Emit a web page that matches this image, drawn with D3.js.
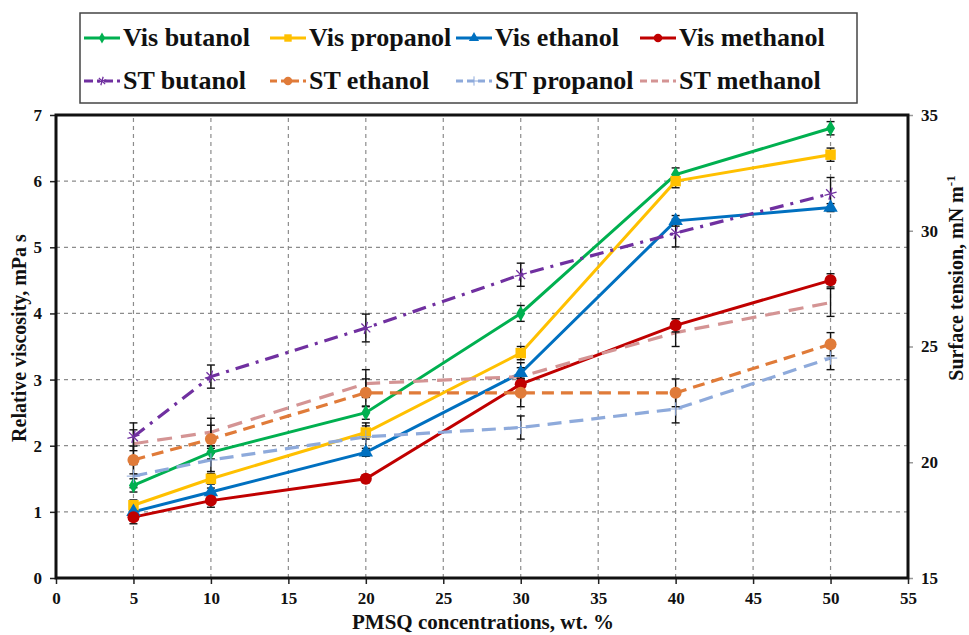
<!DOCTYPE html>
<html>
<head>
<meta charset="utf-8">
<script src="https://cdn.jsdelivr.net/npm/d3@7"></script>
<style>
  body { margin: 0; background: #fff; }
  text { font-family: "Times New Roman", "Liberation Serif", serif; font-weight: bold; }
</style>
</head>
<body>
<script>
var width = 969,
    height = 635;
var margin = {left: 56, right: 61, top: 115, bottom: 57};

// x categories (PMSQ wt. %)
var conc = [5, 10, 20, 30, 40, 50];

// relative viscosity, mPa s (left axis)
var visButanol  = [1.4, 1.9, 2.5, 4.0, 6.1, 6.8];
var visPropanol = [1.1, 1.5, 2.2, 3.4, 6.0, 6.4];
var visEthanol  = [1.0, 1.3, 1.9, 3.1, 5.4, 5.6];
var visMethanol = [0.92, 1.17, 1.5, 2.93, 3.82, 4.5];
var errVisButanol  = [0.1, 0.1, 0.1, 0.12, 0.1, 0.1];
var errVisPropanol = [0.08, 0.08, 0.1, 0.1, 0.1, 0.1];
var errVisEthanol  = [0.06, 0.06, 0.06, 0.08, 0.08, 0.06];
var errVisMethanol = [0.1, 0.1, 0.06, 0.08, 0.1, 0.1];

// surface tension, mN m-1 (right axis)
var stButanol  = [21.1, 23.7, 25.8, 28.1, 29.9, 31.6];
var stEthanol  = [20.1, 21.0, 23.0, 23.0, 23.0, 25.1];
var stPropanol = [19.4, 20.1, 21.1, 21.5, 22.3, 24.5];
var stMethanol = [20.8, 21.3, 23.4, 23.7, 25.6, 26.9];
var errStButanol  = [0.6, 0.5, 0.6, 0.5, 0.6, 0.7];
var errStEthanol  = [0.6, 0.6, 0.6, 0.6, 0.6, 0.5];
var errStPropanol = [0.5, 0.5, 0.6, 0.5, 0.6, 0.5];
var errStMethanol = [0.6, 0.6, 0.6, 0.6, 0.6, 0.6];

var xTicks = [0, 5, 10, 15, 20, 25, 30, 35, 40, 45, 50, 55];
var yTicks = [0, 1, 2, 3, 4, 5, 6, 7];
var y2Ticks = [15, 20, 25, 30, 35];

var series = [
  {name: "Vis butanol",  vals: visButanol,  err: errVisButanol,  axis: "L", color: "#00b050", dash: null,         mark: "diamond"},
  {name: "Vis propanol", vals: visPropanol, err: errVisPropanol, axis: "L", color: "#ffc000", dash: null,         mark: "square"},
  {name: "Vis ethanol",  vals: visEthanol,  err: errVisEthanol,  axis: "L", color: "#0070c0", dash: null,         mark: "triangle"},
  {name: "Vis methanol", vals: visMethanol, err: errVisMethanol, axis: "L", color: "#c00000", dash: null,         mark: "circle"},
  {name: "ST butanol",   vals: stButanol,   err: errStButanol,   axis: "R", color: "#7030a0", dash: "14,7,3,7",   mark: "star"},
  {name: "ST ethanol",   vals: stEthanol,   err: errStEthanol,   axis: "R", color: "#e07b39", dash: "12,7",       mark: "circle"},
  {name: "ST propanol",  vals: stPropanol,  err: errStPropanol,  axis: "R", color: "#8eaadb", dash: "14,8",       mark: "plus"},
  {name: "ST methanol",  vals: stMethanol,  err: errStMethanol,  axis: "R", color: "#d49494", dash: "15,9",       mark: null}
];

var svg = d3.select("body").append("svg")
    .attr("width", width)
    .attr("height", height);

var x = d3.scaleLinear().domain([0, 55]).range([margin.left, width - margin.right]);
var y = d3.scaleLinear().domain([0, 7]).range([height - margin.bottom, margin.top]);
var y2 = d3.scaleLinear().domain([15, 35]).range([height - margin.bottom, margin.top]);

function yFor(s) { return s.axis == "L" ? y : y2; }

// grid
svg.append("g").selectAll("line.hg")
    .data(yTicks.filter(function(d) { return d > 0 && d < 7; }))
    .enter().append("line")
    .attr("x1", x(0)).attr("x2", x(55))
    .attr("y1", function(d) { return y(d); }).attr("y2", function(d) { return y(d); })
    .attr("stroke", "#8c8c8c").attr("stroke-width", 1.2).attr("stroke-dasharray", "4,4");
svg.append("g").selectAll("line.vg")
    .data(xTicks.filter(function(d) { return d > 0 && d < 55; }))
    .enter().append("line")
    .attr("y1", y(0)).attr("y2", y(7))
    .attr("x1", function(d) { return x(d); }).attr("x2", function(d) { return x(d); })
    .attr("stroke", "#8c8c8c").attr("stroke-width", 1.2).attr("stroke-dasharray", "4,4");

// axes
var axL = svg.append("g").attr("transform", "translate(" + x(0) + ",0)")
    .call(d3.axisLeft(y).tickValues(yTicks).tickSize(6).tickPadding(8).tickFormat(d3.format("d")));
var axB = svg.append("g").attr("transform", "translate(0," + y(0) + ")")
    .call(d3.axisBottom(x).tickValues(xTicks).tickSize(6).tickPadding(8).tickFormat(d3.format("d")));
var axR = svg.append("g").attr("transform", "translate(" + x(55) + ",0)")
    .call(d3.axisRight(y2).tickValues(y2Ticks).tickSize(5).tickPadding(8).tickFormat(d3.format("d")));

[axL, axB, axR].forEach(function(a) {
  a.select(".domain").remove();
  a.selectAll("text").attr("font-size", 17).attr("fill", "#111")
    .style("font-family", "'Times New Roman', 'Liberation Serif', serif").style("font-weight", "bold");
  a.selectAll(".tick line").attr("stroke", "#222").attr("stroke-width", 1.5);
});
axR.selectAll(".tick line").attr("stroke", "#999");

// frame
svg.append("rect")
    .attr("x", x(0)).attr("y", y(7))
    .attr("width", x(55) - x(0)).attr("height", y(0) - y(7))
    .attr("fill", "none").attr("stroke", "#111").attr("stroke-width", 3);

// lines
var line = d3.line();
series.forEach(function(s) {
  var ys = yFor(s);
  svg.append("path")
    .attr("d", line(s.vals.map(function(v, i) { return [x(conc[i]), ys(v)]; })))
    .attr("fill", "none")
    .attr("stroke", s.color)
    .attr("stroke-width", s.axis == "L" ? 3 : 3.2)
    .attr("stroke-dasharray", s.dash);
});

// error bars
series.forEach(function(s) {
  var ys = yFor(s);
  var g = svg.append("g").attr("stroke", "#111").attr("stroke-width", 1.4);
  s.vals.forEach(function(v, i) {
    var cx = x(conc[i]), t = ys(v + s.err[i]), b = ys(v - s.err[i]);
    g.append("line").attr("x1", cx).attr("x2", cx).attr("y1", t).attr("y2", b);
    g.append("line").attr("x1", cx - 4).attr("x2", cx + 4).attr("y1", t).attr("y2", t);
    g.append("line").attr("x1", cx - 4).attr("x2", cx + 4).attr("y1", b).attr("y2", b);
  });
});

// markers
function drawMark(g, kind, color, cx, cy, scale) {
  scale = scale || 1;
  if (kind == "diamond") {
    g.append("path").attr("d", d3.symbol(d3.symbolDiamond, 70 * scale)()).attr("transform", "translate(" + cx + "," + cy + ")").attr("fill", color);
  } else if (kind == "square") {
    g.append("path").attr("d", d3.symbol(d3.symbolSquare, 110 * scale)()).attr("transform", "translate(" + cx + "," + cy + ")").attr("fill", color);
  } else if (kind == "triangle") {
    g.append("path").attr("d", d3.symbol(d3.symbolTriangle, 90 * scale)()).attr("transform", "translate(" + cx + "," + cy + ")").attr("fill", color);
  } else if (kind == "circle") {
    g.append("circle").attr("cx", cx).attr("cy", cy).attr("r", 6 * Math.sqrt(scale)).attr("fill", color);
  } else if (kind == "star") {
    g.append("path").attr("d", d3.symbol(d3.symbolAsterisk, 110 * scale)()).attr("transform", "translate(" + cx + "," + cy + ") rotate(15)")
      .attr("fill", "none").attr("stroke", color).attr("stroke-width", 1.3);
  } else if (kind == "plus") {
    g.append("path").attr("d", d3.symbol(d3.symbolPlus, 60 * scale)()).attr("transform", "translate(" + cx + "," + cy + ")")
      .attr("fill", "none").attr("stroke", color).attr("stroke-width", 1);
  }
}
series.forEach(function(s) {
  var ys = yFor(s);
  var g = svg.append("g");
  s.vals.forEach(function(v, i) { drawMark(g, s.mark, s.color, x(conc[i]), ys(v)); });
});

// axis titles
svg.append("text")
    .attr("transform", "translate(26,338) rotate(-90)")
    .attr("text-anchor", "middle").attr("font-size", 20).attr("fill", "#111")
    .text("Relative viscosity, mPa s");
var rt = svg.append("text")
    .attr("transform", "translate(963,278) rotate(-90)")
    .attr("text-anchor", "middle").attr("font-size", 20).attr("fill", "#111");
rt.append("tspan").text("Surface tension, mN m");
rt.append("tspan").attr("font-size", 13).attr("dy", -8).text("-1");
svg.append("text")
    .attr("x", 483).attr("y", 629)
    .attr("text-anchor", "middle").attr("font-size", 21).attr("fill", "#111")
    .text("PMSQ concentrations, wt. %");

// legend
var legCols = [84, 270, 456, 640];
var legRows = [38, 81];
svg.append("rect")
    .attr("x", 80).attr("y", 13).attr("width", 777).attr("height", 90)
    .attr("fill", "#fff").attr("stroke", "#444").attr("stroke-width", 1.5);
series.forEach(function(s, i) {
  var lx = legCols[i % 4], ly = legRows[Math.floor(i / 4)];
  var g = svg.append("g");
  g.append("line")
    .attr("x1", lx).attr("x2", lx + 36).attr("y1", ly).attr("y2", ly)
    .attr("stroke", s.color).attr("stroke-width", 3)
    .attr("stroke-dasharray", s.dash ? (s.mark == "star" ? "9,4,3,4" : "7,4") : null);
  drawMark(g, s.mark, s.color, lx + 18, ly, 0.5);
  g.append("text")
    .attr("x", lx + 39).attr("y", ly + 8)
    .attr("font-size", 26).attr("fill", "#111")
    .text(s.name);
});
</script>
</body>
</html>
